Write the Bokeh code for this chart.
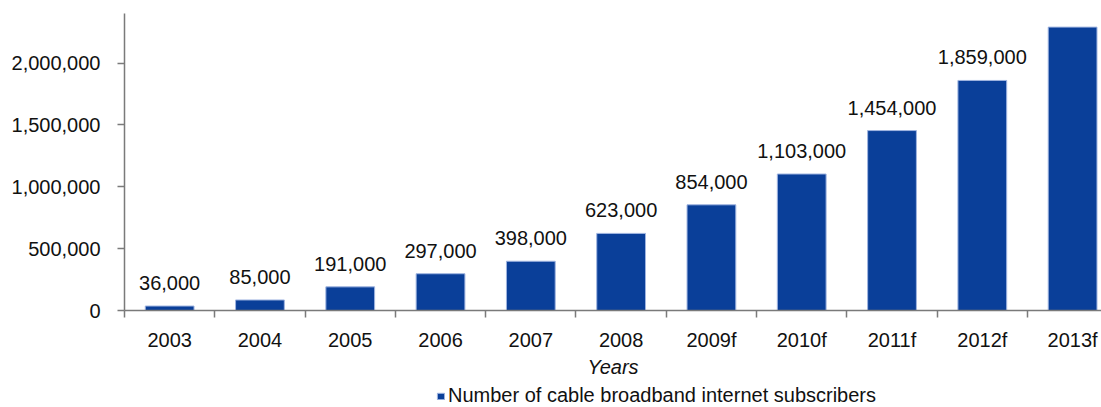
from bokeh.plotting import figure
from bokeh.layouts import column
from bokeh.models import Range1d, FixedTicker, NumeralTickFormatter, Legend, LegendItem, ColumnDataSource, LabelSet
from bokeh.core.properties import value
from bokeh.embed import file_html
from bokeh.resources import INLINE

years = ["2003", "2004", "2005", "2006", "2007", "2008", "2009f", "2010f", "2011f", "2012f", "2013f"]
subscribers = [36000, 85000, 191000, 297000, 398000, 623000, 854000, 1103000, 1454000, 1859000, 2290000]
value_labels = ["36,000", "85,000", "191,000", "297,000", "398,000", "623,000", "854,000",
                "1,103,000", "1,454,000", "1,859,000", ""]
y_ticks = [0, 500000, 1000000, 1500000, 2000000]
series_name = "Number of cable broadband internet subscribers"

xs = list(range(len(years)))
src = ColumnDataSource(dict(x=xs, top=subscribers, lab=value_labels))

FONT = "Liberation Sans"
FS = "20px"
AXIS_COL = "#7a7a7a"
TXT = "#111111"
BAR_FILL = "#0a3f99"
BAR_LINE = "#9fb4e0"

p = figure(width=1101, height=380, output_backend="svg", toolbar_location=None,
           x_range=Range1d(-0.5, 10.32), y_range=Range1d(0, 2400000),
           min_border_left=124, min_border_right=0, min_border_top=13, min_border_bottom=66)
p.outline_line_color = None
p.grid.grid_line_color = None
p.background_fill_color = "white"
p.border_fill_color = "white"

bars = p.vbar(x="x", top="top", width=0.54, source=src,
              fill_color=BAR_FILL, line_color=BAR_LINE, line_width=1)

labels = LabelSet(x="x", y="top", text="lab", source=src, text_align="center",
                  text_baseline="bottom", y_offset=16, text_font=value(FONT),
                  text_font_size=FS, text_color=TXT)
p.add_layout(labels)

xa = p.xaxis[0]
xa.ticker = FixedTicker(ticks=xs, minor_ticks=[i - 0.5 for i in range(len(years) + 1)])
xa.major_label_overrides = {i: y for i, y in enumerate(years)}
xa.major_tick_line_color = None
xa.minor_tick_line_color = AXIS_COL
xa.minor_tick_line_width = 1.5
xa.minor_tick_out = 7
xa.minor_tick_in = 0
xa.axis_line_color = AXIS_COL
xa.axis_line_width = 1.5
xa.major_label_text_font = FONT
xa.major_label_text_font_size = FS
xa.major_label_text_color = TXT
xa.major_label_standoff = 11
xa.axis_label = "Years"
xa.axis_label_text_font = FONT
xa.axis_label_text_font_style = "italic"
xa.axis_label_text_font_size = FS
xa.axis_label_text_color = TXT
xa.axis_label_standoff = 2

ya = p.yaxis[0]
ya.ticker = FixedTicker(ticks=y_ticks, minor_ticks=[])
ya.formatter = NumeralTickFormatter(format="0,0")
ya.axis_line_color = AXIS_COL
ya.axis_line_width = 1.5
ya.major_tick_line_color = AXIS_COL
ya.major_tick_line_width = 1.5
ya.major_tick_out = 7
ya.major_tick_in = 0
ya.minor_tick_line_color = None
ya.major_label_text_font = FONT
ya.major_label_text_font_size = FS
ya.major_label_text_color = TXT
ya.major_label_standoff = 17

# legend strip below the chart (its frame is aligned with the chart's frame)
lg = figure(width=1101, height=27, output_backend="svg", toolbar_location=None,
            x_range=Range1d(0, 1), y_range=Range1d(0, 1),
            min_border_left=0, min_border_right=0, min_border_top=0, min_border_bottom=0)
lg.axis.visible = False
lg.grid.grid_line_color = None
lg.outline_line_color = None
lg_bar = lg.vbar(x=[-10], top=[-10], width=0.5, fill_color=BAR_FILL, line_color=BAR_LINE, line_width=1)
legend = Legend(items=[LegendItem(label=series_name, renderers=[lg_bar])],
                location=(312, 0), orientation="horizontal",
                label_text_font=FONT, label_text_font_size=FS, label_text_color=TXT,
                label_height=20, glyph_width=9, glyph_height=8, label_standoff=3,
                padding=0, margin=0,
                border_line_color=None, background_fill_alpha=0)
lg.add_layout(legend, "center")

layout = column(p, lg, spacing=0)
open("out.html", "w").write(file_html(layout, INLINE))
